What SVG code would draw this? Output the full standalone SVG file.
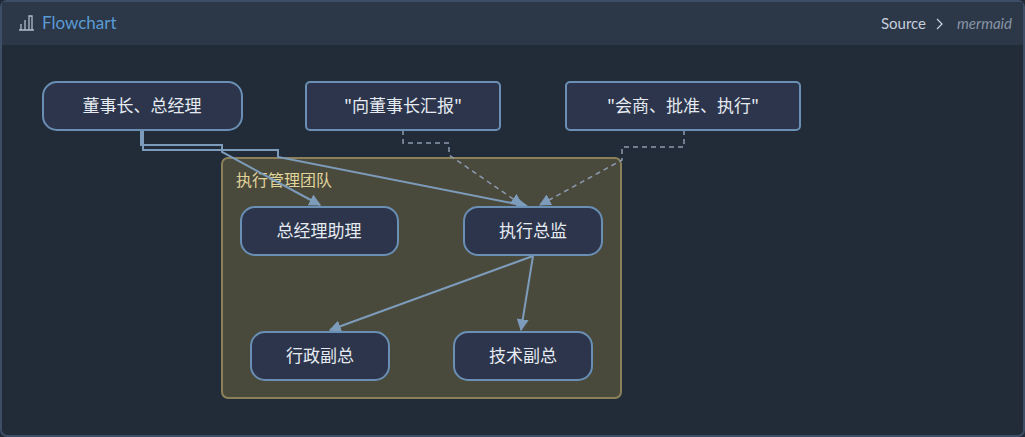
<svg xmlns="http://www.w3.org/2000/svg" width="1025" height="437" viewBox="0 0 1025 437">
<defs>
<style>
.n rect{fill:#2c354b;stroke:#6a8fb5;stroke-width:2}
.n text,.t{font-family:"Noto Sans CJK SC","Liberation Sans",sans-serif;font-size:17px;fill:#e6ebf2;text-anchor:middle}
.e{fill:none;stroke:#7d9bbb;stroke-width:2}
.d{fill:none;stroke:#8a9ab0;stroke-width:1.5;stroke-dasharray:5,4}
</style>
<marker id="b" viewBox="0 0 10 10" refX="9" refY="5" markerWidth="12" markerHeight="12" orient="auto" markerUnits="userSpaceOnUse"><path d="M0,0L10,5L0,10z" fill="#7d9bbb"/></marker>
</defs>
<rect x="0" y="0" width="1025" height="437" fill="#212a37"/>
<rect x="1" y="1" width="1023" height="435" rx="6" fill="#222b38" stroke="#3d4e66" stroke-width="2"/>
<rect x="2" y="2" width="1021" height="43" fill="#2c3748"/>
<g fill="none" stroke="#b0bccb" stroke-width="1.3"><path d="M19,30H34M21,30V24M25,30V20M29,30V16H32V30"/></g>
<text x="42" y="29" font-family="Lato,'Liberation Sans',sans-serif" font-size="17" fill="#5b9bd5">Flowchart</text>
<text x="926" y="29" font-family="Lato,'Liberation Sans',sans-serif" font-size="15" fill="#c6cfdb" text-anchor="end">Source</text>
<path d="M937,19l5,5l-5,5" fill="none" stroke="#c6cfdb" stroke-width="1.3"/>
<text x="1012" y="29" font-family="Lato,'Liberation Sans',sans-serif" font-size="15" font-style="italic" fill="#8894a6" text-anchor="end">mermaid</text>
<g id="cluster">
<rect x="222" y="158" width="399" height="240" rx="6" fill="#4a4a3c" stroke="#8b8059" stroke-width="2"/>
<text x="236" y="186" font-family="'Noto Sans CJK SC',sans-serif" font-size="16" fill="#e0d49a">执行管理团队</text>
</g>
<g id="connectors">
<path class="e" d="M141,130V145H222V152L320,205" marker-end="url(#b)"/>
<path class="e" d="M143,130V150H278V157L527,206" marker-end="url(#b)"/>
<path class="d" d="M403,130V143H449V155L522,205" marker-end="url(#b)"/>
<path class="d" d="M684,130V147H622V160L540,205" marker-end="url(#b)"/>
<path class="e" d="M533,256L330,330" marker-end="url(#b)"/>
<path class="e" d="M533,256L521,330" marker-end="url(#b)"/>
</g>
<g id="n1" class="n"><rect x="43" y="82" width="199" height="48" rx="14"/><text x="142" y="112">董事长、总经理</text></g>
<g id="n2" class="n"><rect x="306" y="82" width="194" height="48" rx="4"/><text x="403" y="112">"向董事长汇报"</text></g>
<g id="n3" class="n"><rect x="566" y="82" width="234" height="48" rx="4"/><text x="683" y="112">"会商、批准、执行"</text></g>
<g id="n4" class="n"><rect x="241" y="207" width="157" height="48" rx="14"/><text x="319" y="237">总经理助理</text></g>
<g id="n5" class="n"><rect x="464" y="207" width="138" height="48" rx="14"/><text x="533" y="237">执行总监</text></g>
<g id="n6" class="n"><rect x="251" y="332" width="138" height="48" rx="14"/><text x="320" y="362">行政副总</text></g>
<g id="n7" class="n"><rect x="454" y="332" width="138" height="48" rx="14"/><text x="523" y="362">技术副总</text></g>
</svg>
